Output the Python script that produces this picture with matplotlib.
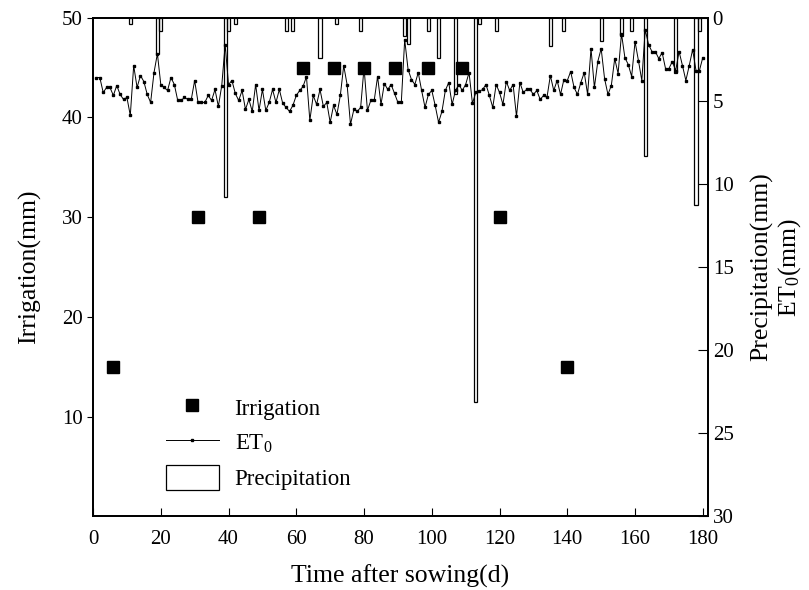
import numpy as np
import matplotlib
matplotlib.use("Agg")
import matplotlib.pyplot as plt
from matplotlib.lines import Line2D
from matplotlib.patches import Patch

plt.rcParams['font.family'] = ['Liberation Serif', 'DejaVu Serif']
plt.rcParams['mathtext.fontset'] = 'custom'
plt.rcParams['mathtext.rm'] = 'Liberation Serif'
plt.rcParams['mathtext.it'] = 'Liberation Serif:italic'

# Riego (mm) en el eje izquierdo
irr_days = [6, 31, 49, 62, 71, 80, 89, 99, 109, 120, 140]
irr_mm = [15, 30, 30, 45, 45, 45, 45, 45, 45, 30, 15]

et0_days = list(range(1, 181))
et0 = [44.0, 44.0, 42.5, 43.0, 43.0, 42.2, 43.2, 42.3, 41.8, 42.0,
       40.2, 45.2, 43.0, 44.2, 43.6, 42.3, 41.5, 44.5, 46.4, 43.3,
       43.0, 42.7, 44.0, 43.3, 41.7, 41.7, 42.0, 41.8, 41.8, 43.7,
       41.5, 41.5, 41.5, 42.2, 41.7, 42.8, 41.1, 43.2, 47.3, 43.3,
       43.7, 42.4, 41.7, 42.7, 40.8, 41.8, 40.6, 43.3, 40.7, 42.8,
       40.7, 41.5, 42.8, 41.5, 42.8, 41.4, 41.0, 40.6, 41.2, 42.2,
       42.7, 43.1, 44.1, 39.7, 42.2, 41.3, 42.8, 41.1, 41.5, 39.5,
       41.2, 40.3, 42.2, 45.2, 43.3, 39.3, 40.8, 40.6, 41.0, 45.0,
       40.7, 41.7, 41.7, 44.1, 41.3, 43.4, 42.8, 43.3, 42.4, 41.5,
       41.5, 47.8, 44.8, 43.8, 43.3, 44.5, 42.7, 41.0, 42.3, 42.7,
       41.2, 39.5, 40.6, 42.7, 43.5, 41.3, 42.7, 43.3, 42.7, 43.3,
       44.5, 41.4, 42.5, 42.6, 42.8, 43.3, 42.2, 41.0, 43.3, 42.5,
       41.3, 43.6, 42.7, 43.3, 40.1, 43.5, 42.5, 42.8, 42.8, 42.3,
       42.7, 41.8, 42.2, 42.0, 44.2, 42.7, 43.7, 42.3, 43.8, 43.7,
       44.6, 43.0, 42.3, 43.5, 44.5, 42.3, 46.9, 43.0, 45.6, 46.9,
       43.9, 42.3, 43.2, 45.9, 44.4, 48.4, 46.0, 45.3, 44.1, 47.6,
       45.7, 43.7, 48.8, 47.3, 46.6, 46.6, 45.9, 46.5, 44.9, 44.9,
       45.6, 44.7, 46.6, 45.2, 43.7, 45.2, 46.8, 44.7, 44.7, 46.0]

# Precipitacion (mm) en el eje derecho invertido
rain_days = [11, 19, 20, 39, 40, 42, 57, 59, 67, 72, 79, 92, 93, 99, 102,
             107, 113, 114, 119, 135, 139, 150, 156, 159, 163, 172, 178, 179]
rain_mm = [0.4, 2.2, 0.8, 10.8, 0.8, 0.4, 0.8, 0.8, 2.4, 0.4, 0.8, 1.1, 1.6,
           0.8, 2.4, 4.6, 23.1, 0.4, 0.8, 1.7, 0.8, 1.4, 1.1, 0.8, 8.3, 3.3,
           11.3, 0.8]

fig, ax1 = plt.subplots(figsize=(8.09, 5.90), dpi=100)
fig.subplots_adjust(left=0.115, right=0.875, bottom=0.125, top=0.97)
ax2 = ax1.twinx()

ax2.bar(rain_days, rain_mm, width=0.9, facecolor='none', edgecolor='black', linewidth=0.9)
ax1.plot(et0_days, et0, color='black', linewidth=0.7, marker='s', markersize=2)
ax1.plot(irr_days, irr_mm, linestyle='none', marker='s', markersize=8.5, color='black')

ax1.set_xlim(0, 181.5)
ax1.set_ylim(0, 50)
ax2.set_ylim(30, 0)
ax1.set_xticks(np.arange(0, 181, 20))
ax1.set_yticks([10, 20, 30, 40, 50])
ax2.set_yticks(np.arange(0, 31, 5))

ax1.tick_params(axis='x', direction='in', length=6, labelsize=15, pad=10, top=False)
ax1.tick_params(axis='y', direction='out', length=4, labelsize=15)
ax2.tick_params(axis='y', direction='in', length=7, labelsize=15)
for ax in (ax1, ax2):
    for s in ax.spines.values():
        s.set_linewidth(1.3)

ax1.set_xlabel('Time after sowing(d)', fontsize=18.5, labelpad=11)
ax1.set_ylabel('Irrigation(mm)', fontsize=18.5, labelpad=15)
ax2.set_ylabel('Precipitation(mm)\nET$_\\mathrm{0}$(mm)', fontsize=18.5, labelpad=12,
               linespacing=1.15)

handles = [Line2D([], [], linestyle='none', marker='s', markersize=8.5, color='black'),
           Line2D([], [], color='black', linewidth=0.7, marker='s', markersize=2),
           Patch(facecolor='white', edgecolor='black', linewidth=0.9)]
labels = ['Irrigation', 'ET$_\\mathrm{0}$', 'Precipitation']
ax2.legend(handles, labels, loc='upper left', bbox_to_anchor=(0.085, 0.285), frameon=False,
           fontsize=16.5, handlelength=2.3, handleheight=1.3, labelspacing=0.42,
           handletextpad=0.7)

plt.savefig('out.png', dpi=100)
